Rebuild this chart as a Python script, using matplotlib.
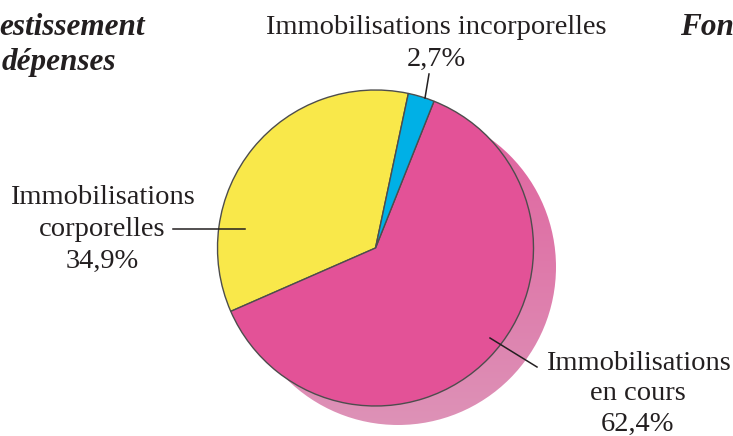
import numpy as np
import matplotlib.pyplot as plt
from matplotlib.patches import Circle

# data
shares = [34.9, 62.4, 2.7]
names = ['Immobilisations\ncorporelles', 'Immobilisations\nen cours', 'Immobilisations incorporelles']
pct_text = ['34,9%', '62,4%', '2,7%']
colors = ['#f9e84a', '#e35297', '#00b0e6']

W, H = 733, 436
serif = 'Liberation Serif'
ink = '#231f20'

def Y(v):
    # image rows -> data y (y up)
    return H - v

fig = plt.figure(figsize=(W / 100, H / 100), dpi=100)
ax = fig.add_axes([0, 0, 1, 1])

cx, cy, r = 375.5, Y(248), 158
sx, sy = 398, Y(267)

# extruded side of the pie, light pink gradient
grad = np.linspace(0, 1, 256)[:, None]
top = np.array([224, 98, 158]) / 255
bot = np.array([221, 146, 183]) / 255
img = top + (bot - top) * grad[..., None]
img = np.repeat(img, 2, axis=1)
im = ax.imshow(img, extent=[sx - r, sx + r, sy - r, sy + r], origin='upper', zorder=0)
im.set_clip_path(Circle((sx, sy), r, transform=ax.transData))

ax.pie(shares, colors=colors, startangle=78, counterclock=True, radius=r,
       center=(cx, cy), wedgeprops=dict(edgecolor='#4d4d4d', linewidth=1.0))

txt = dict(family=serif, fontsize=20.5, color=ink, ha='center', va='center')

def label(x, rows, lines):
    for row, s in zip(rows, lines):
        ax.text(x, Y(row), s, **txt)

# corporelles
label(102, [197, 229, 261], names[0].split('\n') + [pct_text[0]])
ax.plot([173, 245], [Y(229), Y(229)], color=ink, lw=1.1)

# en cours
label(638, [363, 394, 424], names[1].split('\n') + [pct_text[1]])
ax.plot([490, 537], [Y(338), Y(367)], color=ink, lw=1.1)

# incorporelles
label(436, [27, 59], names[2].split('\n') + [pct_text[2]])
ax.plot([425, 429], [Y(98), Y(74)], color=ink, lw=1.1)

# cropped headings of the neighbouring panels
head = dict(family=serif, fontsize=22.5, color=ink, fontweight='bold', fontstyle='italic', va='center')
ax.text(145, Y(27), 'estissement', ha='right', **head)
ax.text(2, Y(62), 'dépenses', ha='left', **head)
ax.text(680, Y(27), 'Fon', ha='left', **head)

ax.set_xlim(0, W)
ax.set_ylim(0, H)
ax.set_aspect('equal')
ax.axis('off')

fig.savefig('out.png', dpi=100)
